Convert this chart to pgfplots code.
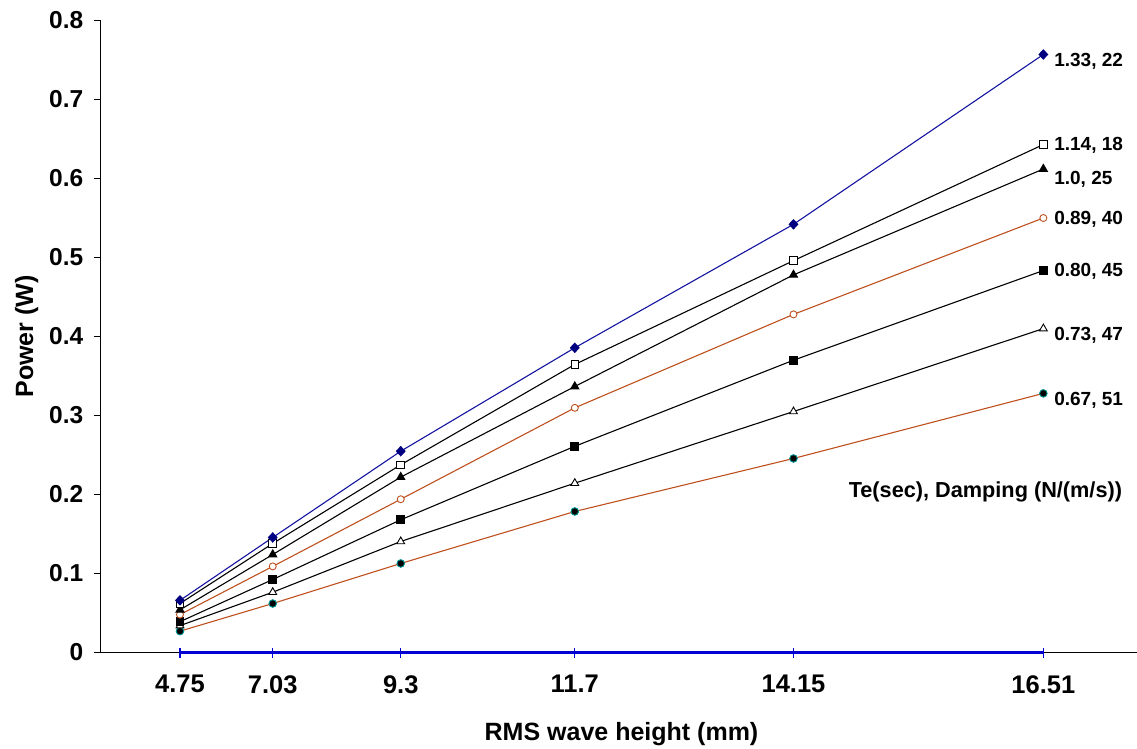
\documentclass[border=0pt]{standalone}
\usepackage{fontspec}
\setmainfont{Liberation Sans}
\usepackage{pgfplots}
\pgfplotsset{compat=1.18}
\definecolor{navyl}{RGB}{20,20,160}
\definecolor{navym}{RGB}{0,0,128}
\definecolor{rust}{RGB}{190,80,30}
\definecolor{tealc}{RGB}{0,150,150}
\definecolor{axblue}{RGB}{0,0,210}
\begin{document}
\begin{tikzpicture}
\useasboundingbox (-100pt,-96.5pt) rectangle (1037pt,652.5pt);
\begin{axis}[
  scale only axis, width=1037pt, height=632pt,
  xmin=-0.6, xmax=299.7, ymin=0, ymax=0.8,
  clip=false,
  axis x line=bottom, axis y line=left,
  axis line style={-, black, line width=0.9pt},
  x axis line style={draw=none},
  xtick={22.5625,49.4209,86.49,136.89,200.2225,272.5801},
  xticklabels={4.75,7.03,9.3,11.7,14.15,16.51},
  ytick={0,0.1,0.2,0.3,0.4,0.5,0.6,0.7,0.8},
  yticklabels={0,0.1,0.2,0.3,0.4,0.5,0.6,0.7,0.8},
  tick align=outside, major tick length=5.5pt,
  x tick style={draw=none},
  y tick style={black, line width=0.8pt},
  yticklabel style={font=\fontsize{24.5}{28}\selectfont\bfseries, anchor=east, inner sep=0pt, xshift=-11pt},
  xticklabel style={font=\fontsize{25.5}{29}\selectfont\bfseries, anchor=north, inner sep=0pt, yshift=-17pt},
  xlabel={RMS wave height (mm)}, ylabel={Power (W)},
  label style={font=\fontsize{25}{29}\selectfont\bfseries},
  xlabel style={at={(axis description cs:0.5029,-0.1385)}, anchor=base},
  ylabel style={at={(axis description cs:-0.0646,0.5)}, anchor=base},
]
% x axis baseline and the blue zero series over it
\addplot[black, line width=0.9pt, mark=none] coordinates {(-0.6,0) (299.7,0)};
\addplot[axblue, line width=2.2pt, mark=|, mark size=5pt, mark options={line width=1.3pt}]
  coordinates {(22.5625,0) (49.4209,0) (86.49,0) (136.89,0) (200.2225,0) (272.5801,0)};
% 0.67, 51
\addplot[rust, line width=1.1pt, mark=*, mark size=3.8pt, mark options={fill=black, draw=tealc, line width=0.9pt}]
  coordinates {(22.5625,0.027) (49.4209,0.062) (86.49,0.1127) (136.89,0.1785) (200.2225,0.2456) (272.5801,0.328)};
% 0.73, 47
\addplot[black, line width=1.1pt, mark=triangle*, mark size=4.5pt, mark options={fill=white, draw=black, line width=0.9pt}]
  coordinates {(22.5625,0.034) (49.4209,0.0763) (86.49,0.1405) (136.89,0.2143) (200.2225,0.305) (272.5801,0.410)};
% 0.80, 45
\addplot[black, line width=1.1pt, mark=square*, mark size=3.8pt, mark options={fill=black, draw=black}]
  coordinates {(22.5625,0.039) (49.4209,0.0924) (86.49,0.168) (136.89,0.261) (200.2225,0.370) (272.5801,0.4835)};
% 0.89, 40
\addplot[rust, line width=1.1pt, mark=*, mark size=3.5pt, mark options={fill=white, draw=rust, line width=0.9pt}]
  coordinates {(22.5625,0.048) (49.4209,0.109) (86.49,0.194) (136.89,0.3097) (200.2225,0.428) (272.5801,0.550)};
% 1.0, 25
\addplot[black, line width=1.1pt, mark=triangle*, mark size=4.5pt, mark options={fill=black, draw=black}]
  coordinates {(22.5625,0.054) (49.4209,0.124) (86.49,0.222) (136.89,0.3367) (200.2225,0.478) (272.5801,0.612)};
% 1.14, 18
\addplot[black, line width=1.1pt, mark=square*, mark size=3.8pt, mark options={fill=white, draw=black, line width=0.9pt}]
  coordinates {(22.5625,0.062) (49.4209,0.138) (86.49,0.2376) (136.89,0.3646) (200.2225,0.496) (272.5801,0.643)};
% 1.33, 22
\addplot[navyl, line width=1.1pt, mark=diamond*, mark size=4.5pt, mark options={fill=navym, draw=navym, xscale=1.25}]
  coordinates {(22.5625,0.066) (49.4209,0.1456) (86.49,0.2548) (136.89,0.3857) (200.2225,0.542) (272.5801,0.757)};
\begin{scope}[every node/.style={anchor=base west, inner sep=0pt, font=\fontsize{19}{22}\selectfont\bfseries}]
\node at (axis cs:275.7,0.7414) {1.33, 22};
\node at (axis cs:275.7,0.636) {1.14, 18};
\node at (axis cs:275.7,0.593) {1.0, 25};
\node at (axis cs:275.7,0.542) {0.89, 40};
\node at (axis cs:275.7,0.4756) {0.80, 45};
\node at (axis cs:275.7,0.3946) {0.73, 47};
\node at (axis cs:275.7,0.3123) {0.67, 51};
\end{scope}
\node[anchor=base, inner sep=0pt, font=\fontsize{21.7}{25}\selectfont\bfseries] at (axis cs:255.8,0.1956) {Te(sec), Damping (N/(m/s))};
\end{axis}
\end{tikzpicture}
\end{document}
